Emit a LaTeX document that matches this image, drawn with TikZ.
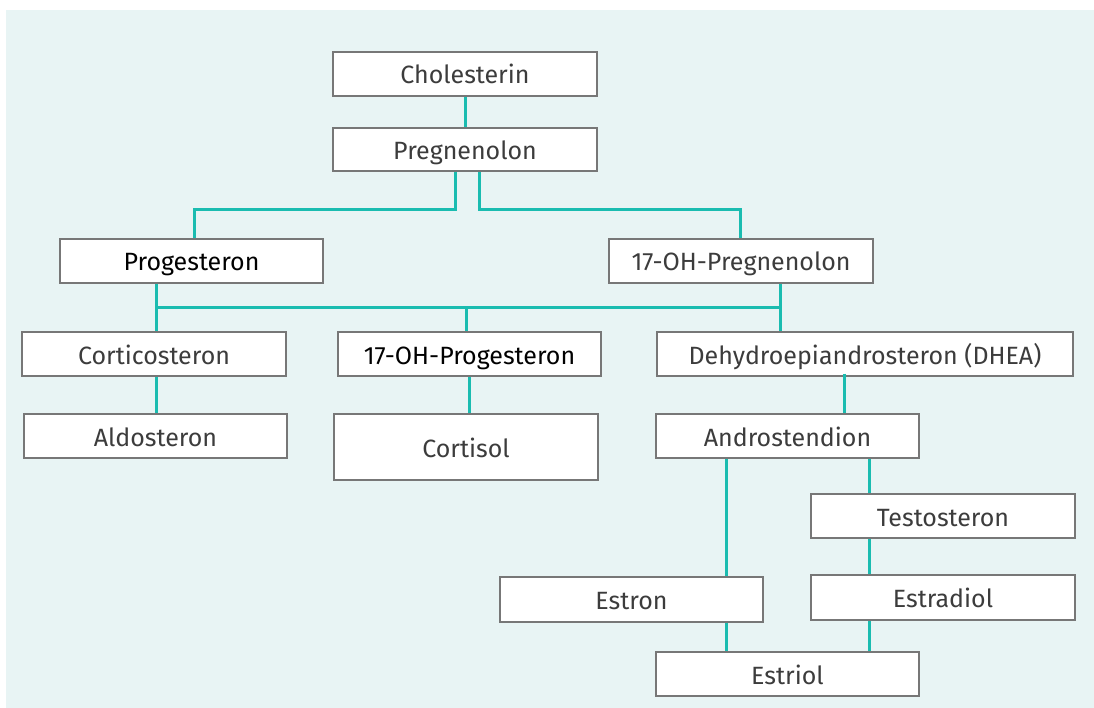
\documentclass[tikz,border=0pt]{standalone}
\usepackage{fontspec}
\setmainfont{Fira Sans}
\definecolor{bgteal}{HTML}{E8F4F4}
\definecolor{linkteal}{HTML}{1ABCB0}
\definecolor{boxgray}{HTML}{777777}
\definecolor{txtgray}{HTML}{3C3C3C}
\tikzset{
  hbox/.style={draw=boxgray, line width=1.2pt, fill=white, text=txtgray,
    minimum width=264pt, minimum height=44pt, inner sep=0pt,
    text height=20pt, text depth=-1.5pt, font=\fontsize{25}{29}\selectfont},
  hkey/.style={hbox, text=black},
  link/.style={draw=linkteal, line width=3pt}
}
\begin{document}
\begin{tikzpicture}[x=1pt,y=-1pt]
\useasboundingbox (0,0) rectangle (1094,708);
\fill[bgteal] (6,10) rectangle (1094,708);

% boxes
\node[hbox] (chol) at (465,74) {Cholesterin};
\node[hbox, minimum height=43pt] (preg) at (465,149.5) {Pregnenolon};
\node[hkey, minimum width=263pt] (prog) at (191.5,261) {Progesteron};
\node[hbox] (ohpreg) at (741,261) {17-OH-Pregnenolon};
\node[hbox] (cort) at (154,354) {Corticosteron};
\node[hkey, minimum width=263pt] (ohprog) at (469.5,354) {17-OH-Progesteron};
\node[hbox, minimum width=416pt] (dhea) at (865,354) {Dehydroepiandrosteron (DHEA)};
\node[hbox, minimum width=263pt] (aldo) at (155.5,436) {Aldosteron};
\node[hbox, minimum height=66pt] (cortisol) at (466,447) {Cortisol};
\node[hbox, minimum width=263pt] (andro) at (787.5,436) {Androstendion};
\node[hbox] (testo) at (943,516) {Testosteron};
\node[hbox, minimum width=263pt, minimum height=45pt] (estron) at (631.5,599.5) {Estron};
\node[hbox, minimum height=45pt] (estradiol) at (943,597.5) {Estradiol};
\node[hbox, minimum width=263pt] (estriol) at (787.5,674) {Estriol};

% junctions
\coordinate (jl) at (194,210);
\coordinate (jr) at (740,210);
\coordinate (bl) at (156,308);
\coordinate (br) at (780,308);
\coordinate (bm) at (466,308);

% connectors
\draw[link] (chol) -- (preg);
\draw[link] ([xshift=-10pt]preg.south) |- (jl) -- (jl |- prog.north);
\draw[link] ([xshift=14pt]preg.south) |- (jr) -- (jr |- ohpreg.north);
\draw[link] (bl |- prog.south) -- (bl |- cort.north);
\draw[link] (br |- ohpreg.south) -- (br |- dhea.north);
\draw[link] (bl) -- (br);
\draw[link] (bm) -- (bm |- ohprog.north);
\draw[link] (bl |- cort.south) -- (bl |- aldo.north);
\draw[link] ([xshift=-0.5pt]ohprog.south) -- ([xshift=3pt]cortisol.north);
\draw[link] ([xshift=56.5pt, yshift=3pt]andro.north |- dhea.south) -- ([xshift=56.5pt]andro.north);
\draw[link] ([xshift=-61.5pt]andro.south) -- ([xshift=94.5pt]estron.north);
\draw[link] ([xshift=81.5pt]andro.south) -- ([xshift=-74pt]testo.north);
\draw[link] ([xshift=-74pt]testo.south) -- ([xshift=-74pt]estradiol.north);
\draw[link] ([xshift=94.5pt]estron.south) -- ([xshift=-61.5pt]estriol.north);
\draw[link] ([xshift=-74pt]estradiol.south) -- ([xshift=81.5pt]estriol.north);
\end{tikzpicture}
\end{document}
